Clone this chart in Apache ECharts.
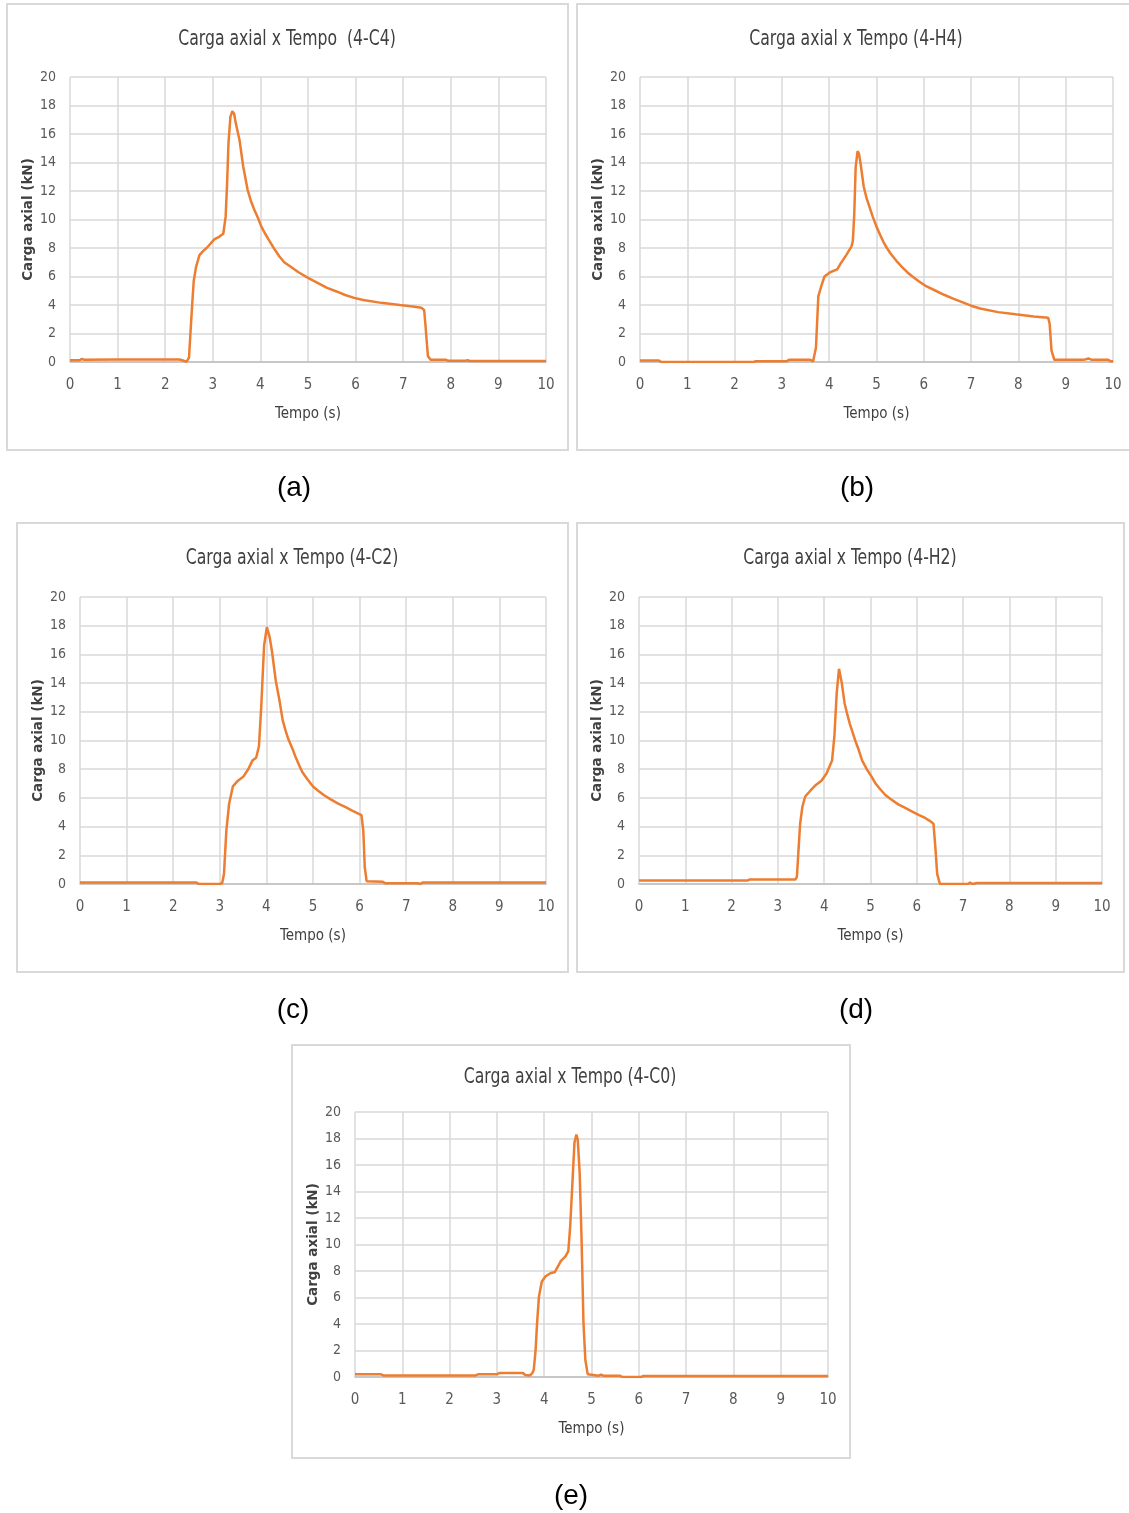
<!DOCTYPE html>
<html>
<head>
<meta charset="utf-8">
<script src="https://cdn.jsdelivr.net/npm/echarts@6/dist/echarts.min.js"></script>
<style>
  html, body { margin: 0; padding: 0; background: #fff; }
  #chart { width: 1129px; height: 1513px; }
</style>
</head>
<body>
<div id="chart"></div>
<script>
// tempo (s), carga axial (kN)
const c4 = [[0,0.12],[0.2,0.12],[0.25,0.22],[0.3,0.15],[1,0.17],[2,0.17],[2.3,0.17],[2.38,0.1],[2.45,0.02],[2.5,0.3],[2.53,2.0],[2.57,4.2],[2.6,5.7],[2.65,6.7],[2.72,7.5],[2.8,7.8],[2.87,8.0],[2.95,8.3],[3.03,8.6],[3.14,8.8],[3.22,9.0],[3.27,10.2],[3.3,12.5],[3.33,15.4],[3.37,17.2],[3.41,17.6],[3.45,17.4],[3.48,16.8],[3.56,15.6],[3.64,13.7],[3.73,12.1],[3.8,11.3],[3.87,10.7],[3.95,10.1],[4.02,9.5],[4.1,9.0],[4.17,8.6],[4.28,8.0],[4.4,7.4],[4.5,7.0],[4.63,6.7],[4.8,6.3],[5,5.9],[5.2,5.55],[5.4,5.2],[5.6,4.95],[5.78,4.7],[5.97,4.5],[6.16,4.35],[6.54,4.15],[6.93,4.0],[7.2,3.9],[7.38,3.8],[7.44,3.65],[7.47,2.5],[7.5,1.2],[7.52,0.4],[7.58,0.15],[7.9,0.15],[7.95,0.08],[8.3,0.08],[8.35,0.12],[8.4,0.07],[10,0.07]];
const h4 = [[0,0.1],[0.4,0.1],[0.45,0],[2.4,0],[2.45,0.05],[3.1,0.05],[3.15,0.15],[3.6,0.15],[3.66,0.05],[3.72,1.0],[3.77,4.6],[3.83,5.3],[3.9,6.0],[4.02,6.3],[4.17,6.5],[4.24,6.9],[4.36,7.5],[4.47,8.1],[4.5,8.5],[4.53,10.4],[4.56,13.7],[4.6,14.8],[4.63,14.6],[4.66,14.0],[4.73,12.3],[4.79,11.5],[4.85,10.9],[4.92,10.2],[5,9.5],[5.08,8.9],[5.15,8.4],[5.22,8.0],[5.3,7.6],[5.42,7.1],[5.53,6.7],[5.65,6.3],[5.76,6.0],[5.9,5.65],[6.06,5.3],[6.25,5.0],[6.44,4.7],[6.62,4.45],[6.81,4.2],[7.0,3.95],[7.19,3.75],[7.57,3.5],[7.94,3.35],[8.32,3.2],[8.63,3.1],[8.66,2.7],[8.7,0.8],[8.76,0.15],[9.38,0.15],[9.42,0.05],[9.48,0.25],[9.55,0.15],[9.9,0.15],[9.95,0.05],[10,0.05]];
const c2 = [[0,0.1],[2.5,0.1],[2.55,0],[3,0],[3.05,0.05],[3.09,0.7],[3.14,3.7],[3.2,5.6],[3.28,6.8],[3.39,7.2],[3.51,7.5],[3.61,8.0],[3.7,8.6],[3.78,8.8],[3.84,9.6],[3.89,12.4],[3.95,16.6],[4.01,17.9],[4.07,17.2],[4.12,16.2],[4.2,14.2],[4.28,12.8],[4.35,11.4],[4.41,10.7],[4.47,10.1],[4.55,9.5],[4.62,8.9],[4.7,8.3],[4.77,7.8],[4.88,7.3],[5,6.8],[5.11,6.5],[5.23,6.2],[5.38,5.9],[5.54,5.6],[5.7,5.35],[5.85,5.1],[6.04,4.8],[6.08,3.7],[6.11,1.2],[6.15,0.2],[6.5,0.15],[6.55,0.05],[7.25,0.05],[7.3,0],[7.35,0.1],[10,0.1]];
const h2 = [[0,0.25],[2.35,0.25],[2.4,0.32],[3.38,0.32],[3.41,0.5],[3.44,2.1],[3.48,4.2],[3.53,5.4],[3.59,6.1],[3.7,6.5],[3.82,6.9],[3.94,7.2],[4.05,7.7],[4.17,8.6],[4.22,10.3],[4.27,13.3],[4.32,15.0],[4.38,14.0],[4.44,12.6],[4.5,11.8],[4.55,11.2],[4.61,10.6],[4.67,10.0],[4.75,9.3],[4.82,8.6],[4.92,8.0],[5.02,7.5],[5.11,7.0],[5.21,6.6],[5.32,6.2],[5.44,5.9],[5.6,5.55],[5.75,5.3],[5.9,5.05],[6.05,4.8],[6.18,4.6],[6.28,4.4],[6.36,4.2],[6.4,2.6],[6.44,0.7],[6.5,0],[7.1,0],[7.15,0.1],[7.2,0],[7.3,0.07],[10,0.07]];
const c0 = [[0,0.2],[0.55,0.2],[0.6,0.12],[2.55,0.12],[2.6,0.2],[3,0.2],[3.05,0.3],[3.55,0.3],[3.6,0.15],[3.7,0.12],[3.75,0.3],[3.78,0.55],[3.82,2.1],[3.85,4.1],[3.89,6.1],[3.95,7.2],[4.03,7.6],[4.14,7.85],[4.22,7.9],[4.3,8.4],[4.35,8.75],[4.45,9.1],[4.51,9.5],[4.55,11.4],[4.6,14.9],[4.64,17.7],[4.68,18.3],[4.71,17.9],[4.75,15.4],[4.79,10.4],[4.83,4.1],[4.87,1.3],[4.92,0.2],[5.15,0.1],[5.2,0.18],[5.25,0.1],[5.6,0.1],[5.65,0],[6.05,0],[6.1,0.08],[10,0.08]];

const titles = ["Carga axial x Tempo  (4-C4)", "Carga axial x Tempo (4-H4)", "Carga axial x Tempo (4-C2)", "Carga axial x Tempo (4-H2)", "Carga axial x Tempo (4-C0)"];
const captions = ["(a)", "(b)", "(c)", "(d)", "(e)"];
const seriesData = [c4, h4, c2, h2, c0];

// panel layout: box, plot area, title/caption centre
const panels = [
  { box: [7, 4, 561, 446], grid: [70, 77, 476, 285], title: [287, 38], cap: [294, 488] },
  { box: [577, 4, 560, 446], grid: [640, 77, 473, 285], title: [856, 38], cap: [857, 488] },
  { box: [17, 523, 551, 449], grid: [80, 597, 466, 287], title: [292, 557], cap: [293, 1010] },
  { box: [577, 523, 547, 449], grid: [639, 597, 463, 287], title: [850, 557], cap: [856, 1010] },
  { box: [292, 1045, 558, 413], grid: [355, 1112, 473, 265], title: [570, 1076], cap: [571, 1496] },
];

const narrow = "'Liberation Sans Narrow', 'DejaVu Sans Condensed', sans-serif";
const orange = "#ED7D31";

const chart = echarts.init(document.getElementById("chart"), null, { renderer: "canvas" });

const graphic = [];
panels.forEach((p, i) => {
  graphic.push({
    type: "rect",
    shape: { x: p.box[0], y: p.box[1], width: p.box[2], height: p.box[3] },
    style: { fill: "none", stroke: "#d9d9d9", lineWidth: 2 },
    silent: true,
  });
  // title squeezed horizontally to get the narrow look of the original
  graphic.push({
    type: "text",
    x: p.title[0],
    y: p.title[1] + 2,
    scaleX: 0.83,
    style: {
      text: titles[i], x: 0, y: 0,
      font: "21px " + narrow, fill: "#404040",
      textAlign: "center", textVerticalAlign: "middle",
    },
  });
  graphic.push({
    type: "text",
    style: {
      text: captions[i], x: p.cap[0], y: p.cap[1],
      font: "28px 'Liberation Sans', Arial, sans-serif", fill: "#000",
      textAlign: "center", textVerticalAlign: "middle",
    },
  });
});

const option = {
  animation: false,
  backgroundColor: "#fff",
  graphic: graphic,
  grid: panels.map((p) => ({
    left: p.grid[0], top: p.grid[1], width: p.grid[2], height: p.grid[3],
    containLabel: false,
  })),
  xAxis: panels.map((p, i) => ({
    gridIndex: i,
    type: "value",
    min: 0,
    max: 10,
    interval: 1,
    name: "Tempo (s)",
    nameLocation: "middle",
    nameGap: 45,
    nameMoveOverlap: false,
    nameTextStyle: { fontFamily: narrow, fontSize: 15, color: "#404040" },
    axisLine: { show: true, lineStyle: { color: "#bfbfbf", width: 1.5 } },
    axisTick: { show: false },
    axisLabel: { margin: 16, fontFamily: narrow, fontSize: 15, color: "#595959" },
    splitLine: { show: true, lineStyle: { color: "#d9d9d9", width: 1.5 } },
  })),
  yAxis: panels.map((p, i) => ({
    gridIndex: i,
    type: "value",
    min: 0,
    max: 20,
    interval: 2,
    name: "Carga axial (kN)",
    nameLocation: "middle",
    nameRotate: 90,
    nameGap: 35,
    nameMoveOverlap: false,
    nameTextStyle: { fontFamily: "'DejaVu Sans', Verdana, sans-serif", fontWeight: "bold", fontSize: 13.5, color: "#404040" },
    axisLine: { show: false },
    axisTick: { show: false },
    axisLabel: { margin: 14, fontFamily: narrow, fontSize: 14, color: "#595959" },
    splitLine: { show: true, lineStyle: { color: "#d9d9d9", width: 1.5 } },
  })),
  series: seriesData.map((d, i) => ({
    type: "line",
    xAxisIndex: i,
    yAxisIndex: i,
    data: d,
    showSymbol: false,
    smooth: false,
    lineStyle: { color: orange, width: 2.5 },
    itemStyle: { color: orange },
  })),
};

chart.setOption(option);
</script>
</body>
</html>
